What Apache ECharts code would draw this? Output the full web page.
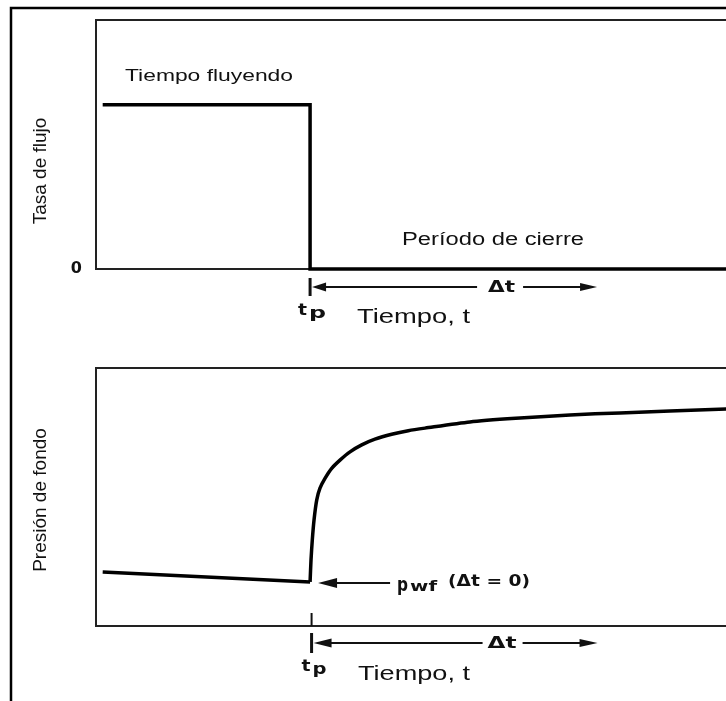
<!DOCTYPE html>
<html><head><meta charset="utf-8">
<script src="https://cdn.jsdelivr.net/npm/echarts@6/dist/echarts.min.js"></script>
<style>html,body{margin:0;padding:0;background:#fff}#c{width:726px;height:701px}</style>
</head><body><div id="c"></div>
<script>
// ---- data (arbitrary schematic units) ----
const tp = 3.2;                                   // producing time
const flowTime = [0.1, 3.2, 3.2, 10];
const flowRate = [0.66, 0.66, 0, 0];
const drawdownTime = [0.1, 3.2];
const drawdownPres = [0.209, 0.171];
const buildupTime = [3.2, 3.214, 3.233, 3.259, 3.299, 3.348, 3.423, 3.523, 3.647, 3.797, 3.972, 4.17, 4.42, 4.668, 4.918, 5.59, 6.338, 7.085, 7.833, 8.58, 9.417, 10];
const buildupPres = [0.171, 0.256, 0.333, 0.411, 0.488, 0.534, 0.572, 0.611, 0.643, 0.675, 0.702, 0.724, 0.743, 0.757, 0.767, 0.791, 0.806, 0.818, 0.826, 0.833, 0.841, 0.845];
const rateTickLabels = ['0'];
const yNames = ['Tasa de flujo', 'Presión de fondo'];

const FAM = '"Liberation Sans", Arial, sans-serif';
const BFAM = '"DejaVu Sans", sans-serif';
const INK = '#111';

const zip = (a, b) => a.map((v, i) => [v, b[i]]);
const lineStyle = { color: '#000', width: 3.5, join: 'miter', cap: 'butt' };
const axisX = g => ({ gridIndex: g, type: 'value', min: 0, max: 10,
  axisLine: { show: false }, axisTick: { show: false }, axisLabel: { show: false }, splitLine: { show: false } });

const option = {
  animation: false,
  backgroundColor: '#fff',
  grid: [
    { left: 96, top: 20, width: 669, height: 249, show: true, borderColor: '#222', borderWidth: 2, backgroundColor: 'transparent', outerBoundsMode: 'none', containLabel: false },
    { left: 96, top: 368, width: 669, height: 258, show: true, borderColor: '#222', borderWidth: 2, backgroundColor: 'transparent', outerBoundsMode: 'none', containLabel: false }
  ],
  xAxis: [axisX(0), axisX(1)],
  yAxis: [
    { gridIndex: 0, type: 'value', min: 0, max: 1, interval: 1,
      name: yNames[0], nameLocation: 'middle', nameGap: 46,
      nameTextStyle: { fontSize: 19, fontFamily: FAM, color: INK, padding: [0, 53, 0, 0] },
      axisLine: { show: false }, axisTick: { show: false }, splitLine: { show: false },
      axisLabel: { formatter: v => (v === 0 ? rateTickLabels[0] : ''), margin: 14, fontWeight: 'bold', fontSize: 16, color: INK, fontFamily: BFAM } },
    { gridIndex: 1, type: 'value', min: 0, max: 1, interval: 1,
      name: yNames[1], nameLocation: 'middle', nameGap: 46,
      nameTextStyle: { fontSize: 19, fontFamily: FAM, color: INK, padding: [0, 6, 0, 0] },
      axisLine: { show: false }, axisTick: { show: false }, splitLine: { show: false },
      axisLabel: { show: false } }
  ],
  series: [
    { type: 'line', xAxisIndex: 0, yAxisIndex: 0, data: zip(flowTime, flowRate), symbol: 'none', lineStyle, clip: false, z: 5 },
    { type: 'line', xAxisIndex: 1, yAxisIndex: 1, data: zip(drawdownTime, drawdownPres), symbol: 'none', lineStyle, clip: false, z: 5 },
    { type: 'line', xAxisIndex: 1, yAxisIndex: 1, data: zip(buildupTime, buildupPres), symbol: 'none', smooth: 0.25, lineStyle, clip: false, z: 5 }
  ]
};

const chart = echarts.init(document.getElementById('c'), null, { renderer: 'canvas' });
chart.setOption(option);

// ---- annotations anchored on the data coordinates ----
const px = (g, x, y) => chart.convertToPixel({ gridIndex: g }, [x, y]);
const mctx = document.createElement('canvas').getContext('2d');
function txt(text, left, right, cy, size, bold) {
  const font = (bold ? 'bold ' : '') + size + 'px ' + (bold ? BFAM : FAM);
  mctx.font = font;
  const w = mctx.measureText(text).width;
  return { type: 'text', x: left, y: cy, scaleX: (right - left) / w, z: 100, silent: true,
    style: { text, x: 0, y: 0, font, fill: INK, textAlign: 'left', textVerticalAlign: 'middle', align: 'left', verticalAlign: 'middle' } };
}
function seg(x1, y1, x2, y2, w) {
  return { type: 'line', z: 100, silent: true, shape: { x1, y1, x2, y2 }, style: { stroke: INK, lineWidth: w || 2 } };
}
function head(tip, base, y, h) {
  return { type: 'polygon', z: 100, silent: true, shape: { points: [[tip, y], [base, y - h], [base, y + h]] }, style: { fill: INK } };
}

const g = [];
// outer frame
g.push({ type: 'rect', z: 100, silent: true, shape: { x: 11, y: 8, width: 800, height: 800 }, style: { fill: 'none', stroke: '#000', lineWidth: 2.5 } });

// top panel
const [xs, y0] = px(0, tp, 0);
g.push(seg(xs, y0 + 9, xs, y0 + 27, 3));
const ay = y0 + 18;
g.push(seg(xs + 10, ay, xs + 167, ay));
g.push(head(xs + 2, xs + 16, ay, 4.5));
g.push(seg(xs + 213, ay, xs + 275, ay));
g.push(head(xs + 287, xs + 270, ay, 4));
g.push(txt('Δt', xs + 178, xs + 205, y0 + 19, 16, true));
g.push(txt('t', xs - 12, xs - 3, y0 + 42, 16, true));
g.push(txt('p', xs - 1, xs + 16, y0 + 45, 15, true));
g.push(txt('Tiempo, t', 357, 470, 317, 21, false));
g.push(txt('Tiempo fluyendo', 125, 293, 77, 16, false));
g.push(txt('Período de cierre', 402, 584, 240, 18, false));

// bottom panel
const [xb0, yb] = px(1, tp, 0);
const xb = xb0 + 1.5;
g.push(seg(xb, yb - 13, xb, yb, 2));
g.push(seg(xb, yb + 7, xb, yb + 27, 3));
const by = yb + 17;
g.push(seg(xb + 10, by, xb + 171, by));
g.push(head(xb + 2, xb + 20, by, 4.5));
g.push(seg(xb + 211, by, xb + 270, by));
g.push(head(xb + 286, xb + 268, by, 4));
g.push(txt('Δt', xb + 176, xb + 205, yb + 18, 16, true));
g.push(txt('t', xb - 10, xb - 1, yb + 41, 16, true));
g.push(txt('p', xb + 1, xb + 15, yb + 44, 15, true));
g.push(txt('Tiempo, t', 358, 470, 674, 21, false));

// p_wf arrow
const [pcx, pcy] = px(1, tp, drawdownPres[1]);
const py = pcy + 1;
g.push(seg(pcx + 20, py, pcx + 80, py));
g.push(head(pcx + 8, pcx + 27, py, 5));
g.push(txt('p', pcx + 87, pcx + 98, py + 3, 19, true));
g.push(txt('wf', pcx + 100, pcx + 127, py + 4, 14, true));
g.push(txt('(Δt = 0)', pcx + 138, pcx + 220, py - 1, 15, true));

chart.setOption({ graphic: g });
</script>
</body></html>
